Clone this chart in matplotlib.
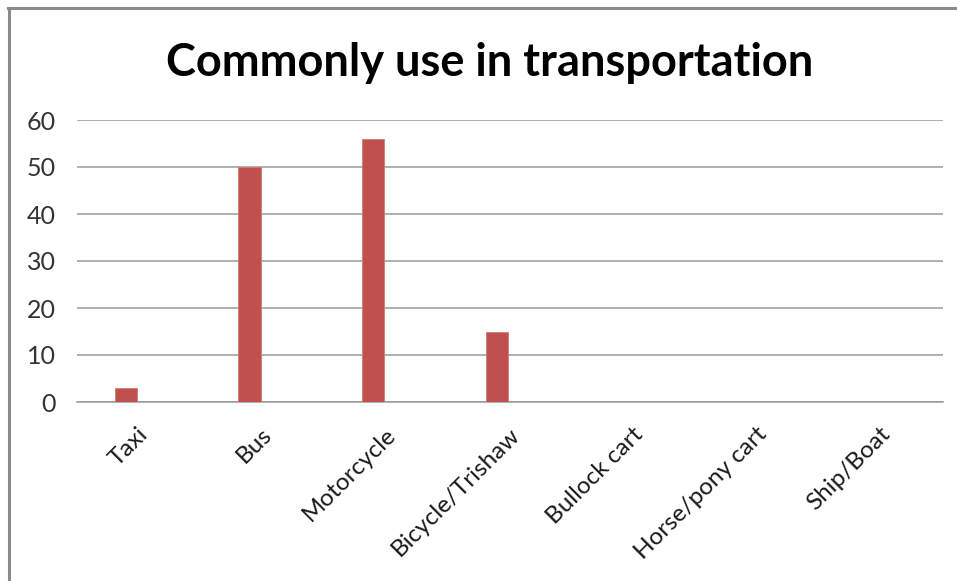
import matplotlib
matplotlib.use("Agg")
import matplotlib.pyplot as plt
from matplotlib.lines import Line2D
from matplotlib.transforms import ScaledTranslation

categories = ["Taxi", "Bus", "Motorcycle", "Bicycle/Trishaw",
              "Bullock cart", "Horse/pony cart", "Ship/Boat"]
values = [3, 50, 56, 15, 0, 0, 0]
y_ticks = [0, 10, 20, 30, 40, 50, 60]
title = "Commonly use in transportation"

plt.rcParams["font.family"] = ["Lato", "DejaVu Sans"]

W, H, DPI = 957, 581, 100
fig = plt.figure(figsize=(W / DPI, H / DPI), dpi=DPI)
fig.patch.set_facecolor("white")

# outer chart-area frame (top and left edges visible)
frame_col = "#8a8a8a"
fig.add_artist(Line2D([8 / W, 1.0], [1 - 8 / H, 1 - 8 / H], color=frame_col,
                      lw=2.2, transform=fig.transFigure))
fig.add_artist(Line2D([9 / W, 9 / W], [0, 1 - 8 / H], color=frame_col,
                      lw=2.2, transform=fig.transFigure))

ax = fig.add_axes([77 / W, 1 - 402 / H, (943 - 77) / W, (402 - 120) / H])

x = list(range(len(categories)))
bar_offset = -0.105
ax.bar([i + bar_offset for i in x], values, width=0.18, color="#C0504D",
       edgecolor="#D07A78", linewidth=0.6, zorder=3)

ax.set_xlim(-0.5, len(categories) - 0.5)
ax.set_ylim(0, 60)
ax.set_yticks(y_ticks)
ax.yaxis.grid(True, color="#9a9a9a", linewidth=1.1, zorder=0)
ax.set_axisbelow(True)

for s in ["top", "right", "left"]:
    ax.spines[s].set_visible(False)
ax.spines["bottom"].set_color("#9a9a9a")
ax.spines["bottom"].set_linewidth(1.1)

ax.tick_params(axis="y", length=0, pad=15.5, labelsize=18, labelcolor="#333333")
ax.tick_params(axis="x", length=0, pad=18, labelsize=17.5, labelcolor="#1a1a1a")
ax.set_xticks(x)
ax.set_xticklabels(categories, rotation=45, ha="right", va="center",
                   rotation_mode="anchor")
shift = ScaledTranslation(6 / DPI, -4 / DPI, fig.dpi_scale_trans)
for lab in ax.get_xticklabels():
    lab.set_transform(lab.get_transform() + shift)

fig.text(490 / W, 1 - 76 / H, title, ha="center", va="baseline",
         fontsize=32.5, fontweight="bold", color="black")

fig.savefig("out.png", dpi=DPI)
